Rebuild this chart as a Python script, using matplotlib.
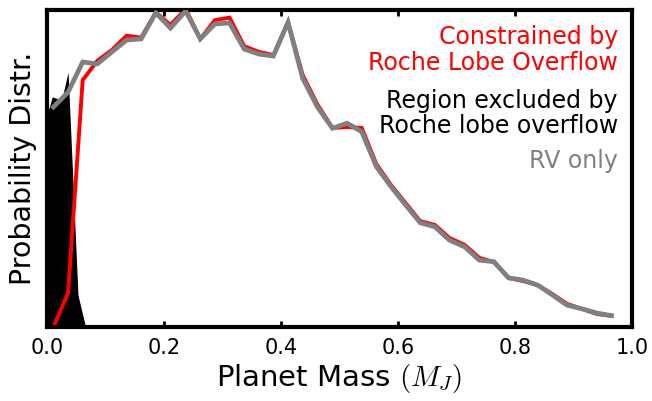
import numpy as np
import matplotlib
matplotlib.use("Agg")
import matplotlib.pyplot as plt

plt.rcParams['font.family'] = ['DejaVu Sans']
plt.rcParams['mathtext.fontset'] = 'cm'

# planet mass grid (M_J)
mass = [0.011, 0.036, 0.061, 0.086, 0.111, 0.136, 0.161, 0.186, 0.211, 0.237,
        0.262, 0.287, 0.312, 0.337, 0.362, 0.387, 0.412, 0.437, 0.462, 0.488,
        0.513, 0.538, 0.563, 0.588, 0.613, 0.638, 0.663, 0.688, 0.714, 0.739,
        0.764, 0.789, 0.814, 0.839, 0.864, 0.889, 0.915, 0.940, 0.965]

rv_only = [0.694, 0.741, 0.836, 0.830, 0.868, 0.905, 0.909, 0.991, 0.943, 0.997,
           0.909, 0.956, 0.959, 0.877, 0.861, 0.855, 0.961, 0.785, 0.695, 0.627,
           0.643, 0.616, 0.506, 0.443, 0.385, 0.329, 0.316, 0.274, 0.253, 0.211,
           0.206, 0.155, 0.148, 0.132, 0.101, 0.069, 0.057, 0.044, 0.036]

roche = [0.0, 0.107, 0.779, 0.840, 0.874, 0.919, 0.913, 0.993, 0.953, 1.003,
         0.909, 0.968, 0.976, 0.886, 0.868, 0.858, 0.962, 0.795, 0.703, 0.628,
         0.631, 0.628, 0.514, 0.448, 0.391, 0.334, 0.322, 0.281, 0.259, 0.218,
         0.205, 0.155, 0.145, 0.132, 0.104, 0.073, 0.057, 0.041, 0.035]

excl_mass = [0.0, 0.009, 0.025, 0.036, 0.053, 0.066]
excl_prob = [0.670, 0.726, 0.716, 0.804, 0.100, 0.0]

fig = plt.figure(figsize=(6.52, 4.01), dpi=100)
ax = fig.add_axes([0.0721, 0.1845, 0.8972, 0.7905])

ax.fill_between(excl_mass, 0, excl_prob, color='black', lw=0, zorder=1)
ax.plot(mass, roche, color='red', lw=2.8, zorder=2, solid_joinstyle='miter')
ax.plot(mass, rv_only, color='gray', lw=3.4, zorder=3, solid_joinstyle='miter')

ax.set_xlim(0, 1.0)
ax.set_ylim(0, 1.0)
ax.set_xticks([0.0, 0.2, 0.4, 0.6, 0.8, 1.0])
ax.set_xticklabels(['0.0', '0.2', '0.4', '0.6', '0.8', '1.0'])
ax.set_yticks([])
ax.tick_params(axis='x', direction='in', length=4, width=2, top=True,
               labelsize=15, pad=8)
for s in ax.spines.values():
    s.set_linewidth(3)

ax.set_xlabel(r'Planet Mass $(M_J)$', fontsize=21, labelpad=3)
ax.set_ylabel('Probability Distr.', fontsize=20.5, labelpad=7)

tx = 0.976
fs = 17
ax.text(tx, 0.915, 'Constrained by', color='red', fontsize=fs, ha='right',
        va='center', transform=ax.transAxes)
ax.text(tx, 0.832, 'Roche Lobe Overflow', color='red', fontsize=fs, ha='right',
        va='center', transform=ax.transAxes)
ax.text(tx, 0.712, 'Region excluded by', color='black', fontsize=fs, ha='right',
        va='center', transform=ax.transAxes)
ax.text(tx, 0.633, 'Roche lobe overflow', color='black', fontsize=fs, ha='right',
        va='center', transform=ax.transAxes)
ax.text(tx, 0.525, 'RV only', color='gray', fontsize=fs, ha='right',
        va='center', transform=ax.transAxes)

fig.savefig('out.png', dpi=100)
